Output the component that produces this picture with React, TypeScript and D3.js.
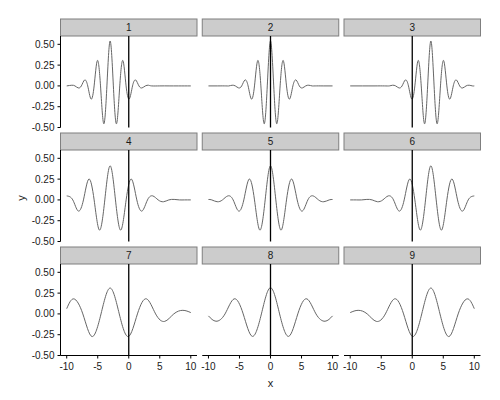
import React from "react";
import * as d3 from "d3";

type Pt = [number, number];

// Knots (extrema and zero crossings), one array per panel
const panel1: Pt[] = [[-10,0],[-9.18,0.008],[-8.67,0],[-8.15,-0.024],[-7.64,0],[-7.12,0.071],[-6.61,0],[-6.09,-0.157],[-5.58,0],[-5.06,0.305],[-4.55,0],[-4.03,-0.455],[-3.52,0],[-3,0.54],[-2.48,0],[-1.97,-0.455],[-1.45,0],[-0.94,0.305],[-0.43,0],[0.09,-0.157],[0.61,0],[1.12,0.071],[1.64,0],[2.15,-0.024],[2.67,0],[3.18,0.008],[3.7,0],[5,0],[6.5,0],[8,0],[10,0]];
const panel2: Pt[] = [[-10,0],[-8.5,0],[-7.2,0],[-6.7,0],[-6.18,0.008],[-5.67,0],[-5.15,-0.024],[-4.64,0],[-4.12,0.071],[-3.61,0],[-3.09,-0.157],[-2.58,0],[-2.06,0.305],[-1.55,0],[-1.03,-0.455],[-0.52,0],[0,0.54],[0.52,0],[1.03,-0.455],[1.55,0],[2.06,0.305],[2.58,0],[3.09,-0.157],[3.61,0],[4.12,0.071],[4.64,0],[5.15,-0.024],[5.67,0],[6.18,0.008],[6.7,0],[7.2,0],[8.5,0],[10,0]];
const panel3: Pt[] = [[-10,0],[-8,0],[-6,0],[-4.5,0],[-3.7,0],[-3.18,0.008],[-2.67,0],[-2.15,-0.024],[-1.64,0],[-1.12,0.071],[-0.61,0],[-0.09,-0.157],[0.42,0],[0.94,0.305],[1.45,0],[1.97,-0.455],[2.48,0],[3,0.54],[3.52,0],[4.03,-0.455],[4.55,0],[5.06,0.305],[5.58,0],[6.09,-0.157],[6.61,0],[7.12,0.071],[7.64,0],[8.15,-0.024],[8.67,0],[9.18,0.008],[9.7,0],[10,0]];
const panel4: Pt[] = [[-10,0.048],[-9.02,0],[-8.16,-0.133],[-7.3,0],[-6.44,0.25],[-5.58,0],[-4.72,-0.363],[-3.86,0],[-3,0.41],[-2.14,0],[-1.28,-0.363],[-0.42,0],[0.44,0.25],[1.3,0],[2.16,-0.133],[3.02,0],[3.88,0.048],[4.74,0],[5.6,-0.022],[6.46,0],[7.32,0.006],[8.18,0],[9,0],[10,0]];
const panel5: Pt[] = [[-10,0.005],[-9.46,0],[-8.6,-0.022],[-7.74,0],[-6.88,0.048],[-6.02,0],[-5.16,-0.133],[-4.3,0],[-3.44,0.25],[-2.58,0],[-1.72,-0.363],[-0.86,0],[0,0.41],[0.86,0],[1.72,-0.363],[2.58,0],[3.44,0.25],[4.3,0],[5.16,-0.133],[6.02,0],[6.88,0.048],[7.74,0],[8.6,-0.022],[9.46,0],[10,0.005]];
const panel6: Pt[] = [[-10,0],[-9,0],[-8.18,0],[-7.32,0.006],[-6.46,0],[-5.6,-0.022],[-4.74,0],[-3.88,0.048],[-3.02,0],[-2.16,-0.133],[-1.3,0],[-0.44,0.25],[0.42,0],[1.28,-0.363],[2.14,0],[3,0.41],[3.86,0],[4.72,-0.363],[5.58,0],[6.44,0.25],[7.3,0],[8.16,-0.133],[9.02,0],[10,0.048]];
const panel7: Pt[] = [[-10,0.063],[-8.86,0.181],[-7.4,0],[-5.93,-0.272],[-4.47,0],[-3,0.311],[-1.53,0],[-0.07,-0.272],[1.4,0],[2.86,0.181],[4.33,0],[5.79,-0.09],[7.26,0],[8.72,0.043],[10,0.016]];
const panel8: Pt[] = [[-10,-0.024],[-8.79,-0.088],[-7.33,0],[-5.86,0.181],[-4.4,0],[-2.93,-0.27],[-1.465,0],[0,0.315],[1.465,0],[2.93,-0.27],[4.4,0],[5.86,0.181],[7.33,0],[8.79,-0.088],[10,-0.024]];
const panel9: Pt[] = [[-10,0.016],[-8.72,0.043],[-7.26,0],[-5.79,-0.09],[-4.33,0],[-2.86,0.181],[-1.4,0],[0.07,-0.272],[1.53,0],[3,0.311],[4.47,0],[5.93,-0.272],[7.4,0],[8.86,0.181],[10,0.063]];

const panels: Pt[][] = [panel1, panel2, panel3, panel4, panel5, panel6, panel7, panel8, panel9];
const panelLabels = ["1", "2", "3", "4", "5", "6", "7", "8", "9"];
const xTicks = [-10, -5, 0, 5, 10];
const yTicks = [-0.5, -0.25, 0, 0.25, 0.5];
const yTickLabels = ["-0.50", "-0.25", "0.00", "0.25", "0.50"];
const vlineAt = 0;

const FONT = "'Liberation Sans', Arial, sans-serif";
const COL_LEFT0 = 60.5;
const COL_PITCH = 141.75;
const PANEL_W = 136.5;
const ROW_TOP0 = 36;
const ROW_PITCH = 114;
const PANEL_H = 91.5;
const STRIP_H = 17;

export default function App() {
  const line = d3.line<Pt>().curve(d3.curveNatural);
  return (
    <svg width={500} height={400} style={{ position: "absolute", left: 0, top: 0 }} fontFamily={FONT}>
      <rect x={0} y={0} width={500} height={400} fill="#fff" />
      {panels.map((data, p) => {
        const r = Math.floor(p / 3);
        const c = p % 3;
        const left = COL_LEFT0 + c * COL_PITCH;
        const top = ROW_TOP0 + r * ROW_PITCH;
        const x = d3.scaleLinear().domain([-11, 11]).range([left, left + PANEL_W]);
        const y = d3.scaleLinear().domain([-0.5, 0.6]).range([top + PANEL_H, top]);
        line.x((d) => x(d[0])).y((d) => y(d[1]));
        return (
          <g key={p}>
            <rect x={left} y={top - STRIP_H} width={PANEL_W} height={STRIP_H} fill="#cccccc" stroke="#7f7f7f" strokeWidth={1} />
            <text x={left + PANEL_W / 2} y={top - STRIP_H / 2} textAnchor="middle" dominantBaseline="central" fontSize={10} fill="#1a1a1a">
              {panelLabels[p]}
            </text>
            <path d={line(data) || ""} fill="none" stroke="#666" strokeWidth={1} />
            <line x1={x(vlineAt)} x2={x(vlineAt)} y1={top} y2={top + PANEL_H} stroke="#000" strokeWidth={1.3} />
            {c === 0 && (
              <g>
                <line x1={left} x2={left} y1={top} y2={top + PANEL_H} stroke="#000" strokeWidth={1} />
                {yTicks.map((t, i) => (
                  <g key={i}>
                    <line x1={left - 3} x2={left} y1={y(t)} y2={y(t)} stroke="#000" strokeWidth={1} />
                    <text x={left - 6} y={y(t)} textAnchor="end" dominantBaseline="central" fontSize={10} fill="#1a1a1a">
                      {yTickLabels[i]}
                    </text>
                  </g>
                ))}
              </g>
            )}
            {r === 2 && (
              <g>
                <line x1={left} x2={left + PANEL_W} y1={top + PANEL_H} y2={top + PANEL_H} stroke="#000" strokeWidth={1} />
                {xTicks.map((t, i) => (
                  <g key={i}>
                    <line x1={x(t)} x2={x(t)} y1={top + PANEL_H} y2={top + PANEL_H + 3} stroke="#000" strokeWidth={1} />
                    <text x={x(t)} y={top + PANEL_H + 11} textAnchor="middle" dominantBaseline="central" fontSize={10} fill="#1a1a1a">
                      {String(t)}
                    </text>
                  </g>
                ))}
              </g>
            )}
          </g>
        );
      })}
      <text x={COL_LEFT0 + COL_PITCH + PANEL_W / 2} y={383} textAnchor="middle" dominantBaseline="central" fontSize={11} fill="#1a1a1a">
        x
      </text>
      <text x={21} y={198} textAnchor="middle" dominantBaseline="central" fontSize={11} fill="#1a1a1a" transform="rotate(-90 21 198)">
        y
      </text>
    </svg>
  );
}
